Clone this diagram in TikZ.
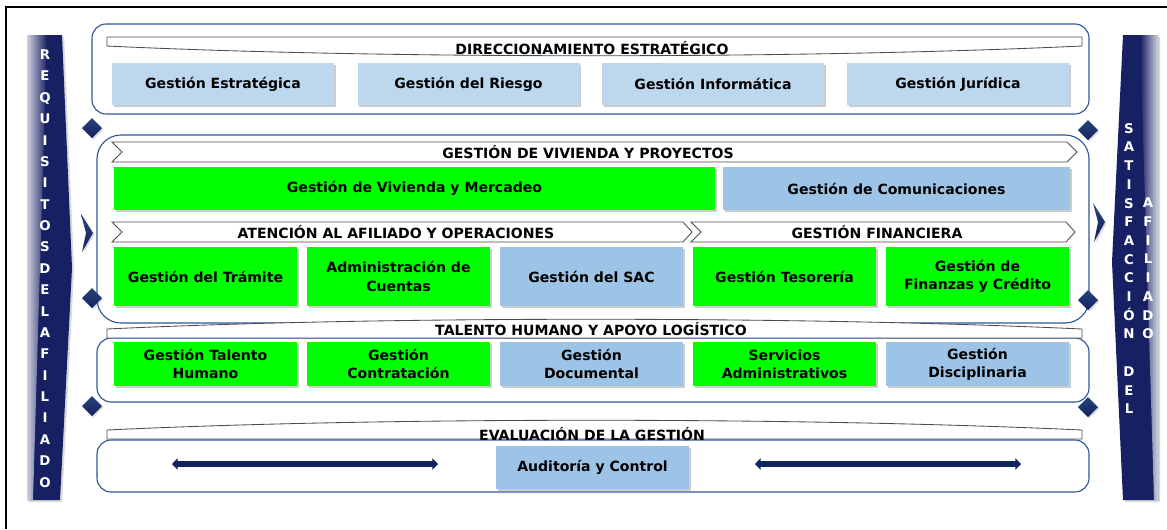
\documentclass[tikz,border=0pt]{standalone}
\usepackage{fontspec}
\setmainfont{DejaVu Sans}
\usetikzlibrary{shadows,arrows.meta}

\definecolor{barblue}{RGB}{22,32,98}
\definecolor{panelline}{RGB}{47,85,151}
\definecolor{lightbox}{RGB}{189,215,238}
\definecolor{bluebox}{RGB}{157,195,230}
\definecolor{greenbox}{RGB}{0,255,0}
\definecolor{arrownavy}{RGB}{16,36,94}

\tikzset{
  panel/.style={draw=panelline, line width=0.8pt, rounded corners=#1},
  ribbon/.style={draw=black!70, line width=0.6pt, fill=white},
  proc/.style 2 args={minimum width=#1*0.025cm, minimum height=#2*0.025cm,
    inner sep=1pt, align=center, font=\bfseries\fontsize{10}{13}\selectfont,
    drop shadow={shadow xshift=1.4pt, shadow yshift=-1.4pt, opacity=0.4}},
  gbox/.style={fill=greenbox},
  bbox/.style={fill=bluebox},
  lbox/.style={fill=lightbox},
  title/.style={font=\bfseries\fontsize{10}{12}\selectfont},
  barletters/.style={text=white, align=center},
  gem/.style={top color=panelline!80!black, bottom color=barblue,
    drop shadow={shadow xshift=1pt, shadow yshift=-1pt, opacity=0.3}},
  twohead/.style={{Triangle[length=4pt,width=8pt]}-{Triangle[length=4pt,width=8pt]},
    draw=arrownavy, line width=3.6pt,
    drop shadow={shadow xshift=1pt, shadow yshift=-1pt, opacity=0.3}}
}

\begin{document}
\begin{tikzpicture}[x=0.025cm, y=-0.025cm]
\useasboundingbox (0,0) rectangle (1167,529);
\draw[line width=1.4pt] (6,529) -- (6,7) -- (1167,7);

% side bars
\fill[barblue, drop shadow={shadow xshift=1.5pt, shadow yshift=-1.5pt, opacity=0.3}]
  (27,35) -- (62,35) -- (72,268) -- (60,500) -- (27,500) -- cycle;
\shade[left color=white!80!barblue, right color=barblue] (27,35) -- (47,35) -- (33,500) -- (27,500) -- cycle;
\fill[barblue, drop shadow={shadow xshift=1.5pt, shadow yshift=-1.5pt, opacity=0.3}]
  (1123,35) -- (1158,35) -- (1158,500) -- (1123,500) -- (1112,262) -- cycle;
\shade[left color=barblue, right color=white!80!barblue] (1140,35) -- (1158,35) -- (1158,500) -- (1154,500) -- cycle;

\node[barletters, font=\bfseries\fontsize{9.5}{15.2}\selectfont] (req) at (45,268.5)
  {R\\E\\Q\\U\\I\\S\\I\\T\\O\\S\\D\\E\\L\\A\\F\\I\\L\\I\\A\\D\\O};
\node[barletters, font=\bfseries\fontsize{9.5}{13.3}\selectfont] (satis) at (1129,268.5)
  {S\\A\\T\\I\\S\\F\\A\\C\\C\\I\\Ó\\N\\~\\D\\E\\L};
\node[barletters, font=\bfseries\fontsize{9.5}{13.3}\selectfont] (afil) at (1148,268.5)
  {A\\F\\I\\L\\I\\A\\D\\O};

% panels
\draw[panel=10pt] (92,24) rectangle (1089,114);
\draw[panel=17pt] (97,135) rectangle (1089,323);
\draw[panel=10pt] (97,338) rectangle (1089,402);
\draw[panel=10pt] (97,440) rectangle (1089,492);

% ribbons and chevrons
\draw[ribbon] (107,37) -- (1082,37) -- (1082,46) .. controls (800,59) and (380,59) .. (107,46) -- cycle;
\node[title] (dir) at (592,48) {DIRECCIONAMIENTO ESTRATÉGICO};

\draw[ribbon] (112,142) -- (1067,142) -- (1077,152) -- (1067,162) -- (112,162) -- (122,152) -- cycle;
\node[title] (viv) at (588,152) {GESTIÓN DE VIVIENDA Y PROYECTOS};

\draw[ribbon] (112,222) -- (683,222) -- (692,232) -- (683,242) -- (112,242) -- (122,232) -- cycle;
\node[title] (aten) at (396,232) {ATENCIÓN AL AFILIADO Y OPERACIONES};
\draw[ribbon] (691,222) -- (1066,222) -- (1075,232) -- (1066,242) -- (691,242) -- (701,232) -- cycle;
\node[title] (fin) at (877,232) {GESTIÓN FINANCIERA};

\draw[ribbon] (107,338) -- (107,329) .. controls (380,316) and (800,316) .. (1082,329) -- (1082,338) -- cycle;
\node[title] (tal) at (591,329) {TALENTO HUMANO Y APOYO LOGÍSTICO};

\draw[ribbon] (107,439) -- (107,430) .. controls (380,417) and (800,417) .. (1082,430) -- (1082,439) -- cycle;
\node[title] (eva) at (592,434) {EVALUACIÓN DE LA GESTIÓN};

% direccionamiento
\node[proc={222}{42}, lbox] (estr) at (223,84) {Gestión Estratégica};
\node[proc={222}{42}, lbox] (ries) at (468.5,84) {Gestión del Riesgo};
\node[proc={222}{42}, lbox] (info) at (713,84) {Gestión Informática};
\node[proc={222}{42}, lbox] (jur) at (958,84) {Gestión Jurídica};

% vivienda y proyectos
\node[proc={601}{43}, gbox] (merc) at (414.5,188.5) {Gestión de Vivienda y Mercadeo};
\node[proc={347}{43}, bbox] (com) at (896.5,188.5) {Gestión de Comunicaciones};

\node[proc={183}{59}, gbox] (tram) at (205.5,276.5) {Gestión del Trámite};
\node[proc={183}{59}, gbox] (cuen) at (398.5,276.5) {Administración de\\Cuentas};
\node[proc={183}{59}, bbox] (sac) at (591.5,276.5) {Gestión del SAC};
\node[proc={183}{59}, gbox] (teso) at (784.5,276.5) {Gestión Tesorería};
\node[proc={183}{59}, gbox] (cred) at (977.5,276.5) {Gestión de\\Finanzas y Crédito};

% talento humano
\node[proc={183}{44}, gbox] (hum) at (205.5,364) {Gestión Talento\\Humano};
\node[proc={183}{44}, gbox] (contr) at (398.5,364) {Gestión\\Contratación};
\node[proc={183}{44}, bbox] (docu) at (591.5,364) {Gestión\\Documental};
\node[proc={183}{44}, gbox] (serv) at (784.5,364) {Servicios\\Administrativos};
\node[proc={183}{44}, bbox] (disc) at (977.5,364) {Gestión\\Disciplinaria};

% evaluacion
\node[proc={193}{43}, bbox] (aud) at (592.5,467.5) {Auditoría y Control};
\coordinate (la) at (172,464);
\coordinate (lb) at (438,464);
\coordinate (ra) at (755,464);
\coordinate (rb) at (1021,464);
\draw[twohead] (la) -- (lb);
\draw[twohead] (ra) -- (rb);

% diamonds and side arrows
\foreach \px/\py in {92/128, 1088/130, 92/298, 1088/300, 92/406, 1088/407}
  \shade[gem] (\px,\py-10) -- (\px+10,\py) -- (\px,\py+10) -- (\px-10,\py) -- cycle;
\shade[gem] (81,214) -- (93,233) -- (82,252) -- (86,233) -- cycle;
\shade[gem] (1093,203) -- (1105,222) -- (1094,242) -- (1098,222) -- cycle;
\end{tikzpicture}
\end{document}
